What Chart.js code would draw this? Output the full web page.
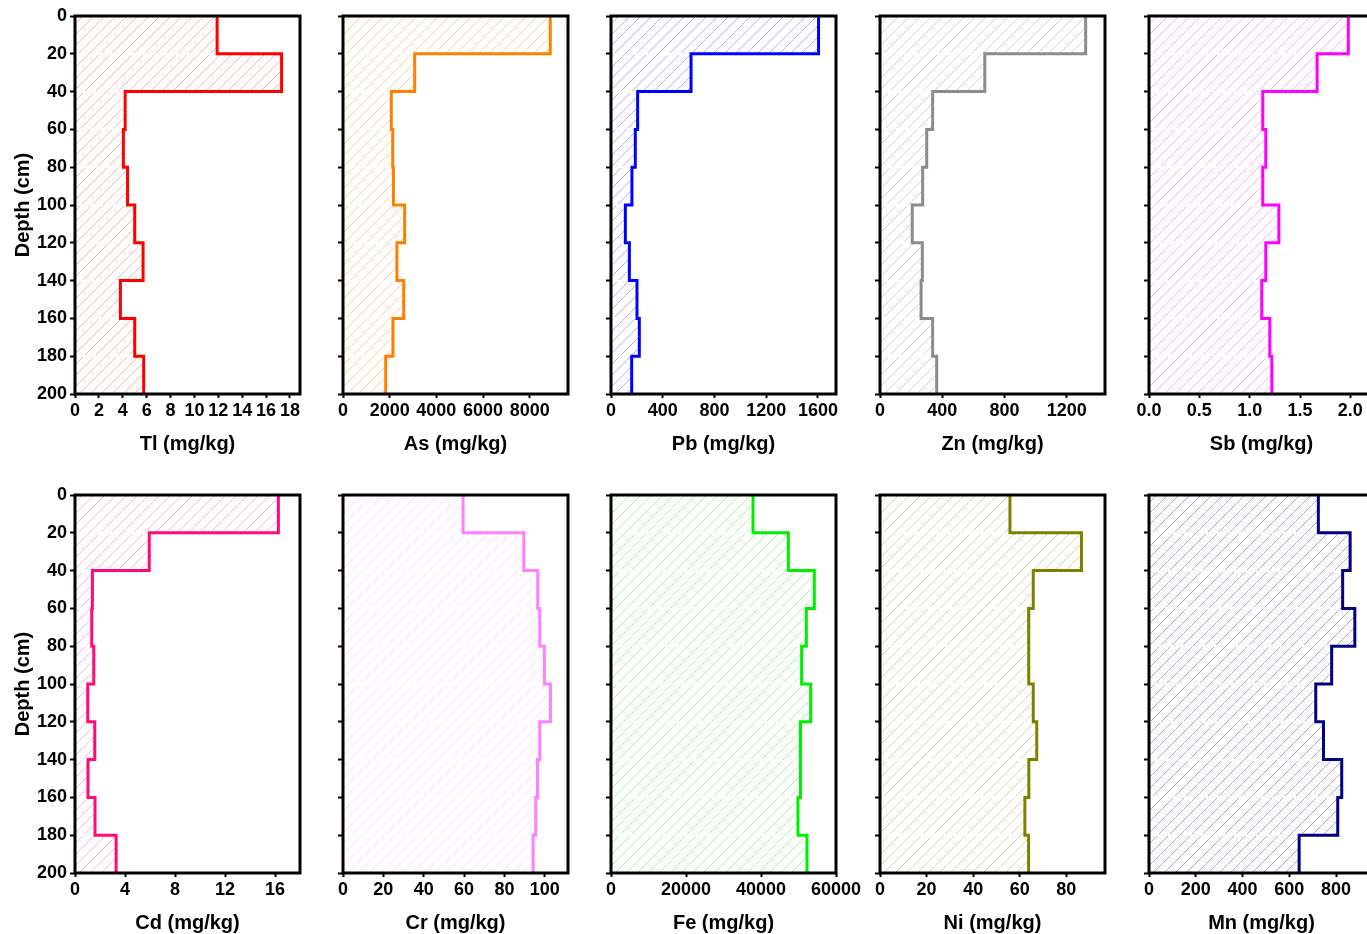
<!DOCTYPE html>
<html>
<head>
<meta charset="utf-8">
<script src="https://cdn.jsdelivr.net/npm/chart.js@4.4.1/dist/chart.umd.min.js"></script>
<style>
  html, body { margin: 0; padding: 0; background: #fff; }
  #board { position: relative; width: 1367px; height: 934px; overflow: hidden; background: #fff; }
  #board canvas { position: absolute; }
</style>
</head>
<body>
<div id="board"></div>
<script>
// depth layers (cm), each value is one 20 cm layer
const depthBounds = [0, 20, 40, 60, 80, 100, 120, 140, 160, 180, 200];
const depthTicks = [0, 20, 40, 60, 80, 100, 120, 140, 160, 180, 200];

const tlValues = [11.9, 17.3, 4.2, 4.05, 4.4, 5.0, 5.7, 3.8, 5.0, 5.75];
const asValues = [8880, 3070, 2070, 2130, 2160, 2640, 2310, 2600, 2140, 1830];
const pbValues = [1605, 619, 206, 188, 162, 111, 142, 201, 219, 160];
const znValues = [1321, 673, 338, 300, 274, 207, 272, 264, 338, 364];
const sbValues = [1.98, 1.67, 1.13, 1.16, 1.13, 1.29, 1.16, 1.12, 1.2, 1.22];
const cdValues = [16.27, 5.94, 1.39, 1.34, 1.5, 1.02, 1.58, 1.04, 1.6, 3.29];
const crValues = [59.5, 89.6, 96.5, 97.5, 99.8, 102.8, 97.5, 96.4, 95.5, 94.2];
const feValues = [37870, 47290, 54220, 52090, 50840, 53240, 50480, 50570, 49860, 52270];
const niValues = [55.8, 86.5, 65.8, 63.8, 63.9, 65.8, 67.3, 63.9, 62.2, 63.8];
const mnValues = [724, 860, 828, 880, 781, 713, 746, 824, 807, 642];

const tlTicks = [0, 2, 4, 6, 8, 10, 12, 14, 16, 18];
const asTicks = [0, 2000, 4000, 6000, 8000];
const pbTicks = [0, 400, 800, 1200, 1600];
const znTicks = [0, 400, 800, 1200];
const sbTicks = [0, 0.5, 1.0, 1.5, 2.0];
const cdTicks = [0, 4, 8, 12, 16];
const crTicks = [0, 20, 40, 60, 80, 100];
const feTicks = [0, 20000, 40000, 60000];
const niTicks = [0, 20, 40, 60, 80];
const mnTicks = [0, 200, 400, 600, 800];

const panels = [
    { title: 'Tl (mg/kg)', values: tlValues, ticks: tlTicks, max: 18.84, color: '#ff0000', hatch: '#ffb0b0' },
    { title: 'As (mg/kg)', values: asValues, ticks: asTicks, max: 9640, color: '#ff8000', hatch: '#ffcc99' },
    { title: 'Pb (mg/kg)', values: pbValues, ticks: pbTicks, max: 1740, color: '#0000ff', hatch: '#b0b0ff' },
    { title: 'Zn (mg/kg)', values: znValues, ticks: znTicks, max: 1445, color: '#8c8c8c', hatch: '#cfcfcf' },
    { title: 'Sb (mg/kg)', values: sbValues, ticks: sbTicks, max: 2.235, color: '#ff00ff', hatch: '#ffa8ff', decimals: 1 },
    { title: 'Cd (mg/kg)', values: cdValues, ticks: cdTicks, max: 18, color: '#ff0a78', hatch: '#ffb3d2' },
    { title: 'Cr (mg/kg)', values: crValues, ticks: crTicks, max: 111.5, color: '#ff80ff', hatch: '#ffd4ff' },
    { title: 'Fe (mg/kg)', values: feValues, ticks: feTicks, max: 60000, color: '#00ee00', hatch: '#a8f0a8' },
    { title: 'Ni (mg/kg)', values: niValues, ticks: niTicks, max: 96.6, color: '#808000', hatch: '#d4d4a4' },
    { title: 'Mn (mg/kg)', values: mnValues, ticks: mnTicks, max: 962, color: '#000080', hatch: '#a8a8dc' }
];

const FONT = '"Liberation Sans", Arial, Helvetica, sans-serif';
Chart.defaults.font.family = FONT;
Chart.defaults.color = '#000';

const colLefts = [75, 343, 611, 880, 1149];
const rowTops = [16, 495];
const AXIS_W = 64;
const PLOT_W = 225;
const PAD_R = 36;
const CANVAS_H = 460;

function stepPoints(values) {
    const pts = [];
    values.forEach((v, i) => {
        pts.push({ x: v, y: depthBounds[i] });
        pts.push({ x: v, y: depthBounds[i + 1] });
    });
    return pts;
}

function makeHatch(ctx, color) {
    const s = 11;
    const tile = document.createElement('canvas');
    tile.width = s;
    tile.height = s;
    const t = tile.getContext('2d');
    t.strokeStyle = color;
    t.lineWidth = 1;
    t.beginPath();
    t.moveTo(-1, s + 1); t.lineTo(s + 1, -1);
    t.moveTo(-2, 2); t.lineTo(2, -2);
    t.moveTo(s - 2, s + 2); t.lineTo(s + 2, s - 2);
    t.stroke();
    return ctx.createPattern(tile, 'repeat');
}

// white dashed layer boundaries over the hatch, under the profile line
const layerPlugin = {
    id: 'layerLines',
    afterDatasetDraw(chart, args) {
        if (args.index !== 1) return;
        const { ctx, chartArea } = chart;
        const y = chart.scales.y;
        ctx.save();
        ctx.strokeStyle = '#fff';
        ctx.lineWidth = 2;
        ctx.setLineDash([12, 4]);
        depthBounds.slice(1, -1).forEach(d => {
            const py = Math.round(y.getPixelForValue(d));
            ctx.beginPath();
            ctx.moveTo(chartArea.left, py);
            ctx.lineTo(chartArea.right, py);
            ctx.stroke();
        });
        ctx.restore();
    }
};

const framePlugin = {
    id: 'frame',
    afterDraw(chart) {
        const { ctx, chartArea } = chart;
        ctx.save();
        ctx.strokeStyle = '#000';
        ctx.lineWidth = 3;
        ctx.strokeRect(chartArea.left, chartArea.top, chartArea.right - chartArea.left, chartArea.bottom - chartArea.top);
        ctx.restore();
    }
};

const board = document.getElementById('board');

panels.forEach((p, i) => {
    const col = i % 5;
    const row = Math.floor(i / 5);
    const canvas = document.createElement('canvas');
    canvas.width = AXIS_W + PLOT_W + PAD_R;
    canvas.height = CANVAS_H;
    canvas.style.left = (colLefts[col] - AXIS_W) + 'px';
    canvas.style.top = (rowTops[row] - 16) + 'px';
    board.appendChild(canvas);

    const ctx = canvas.getContext('2d');
    const pts = stepPoints(p.values);
    const first = col === 0;

    new Chart(ctx, {
        type: 'line',
        data: {
            datasets: [
                {
                    data: pts,
                    fill: false,
                    borderColor: p.color,
                    borderWidth: 3,
                    borderJoinStyle: 'miter',
                    pointRadius: 0,
                    tension: 0
                },
                {
                    data: pts,
                    fill: 'origin',
                    backgroundColor: makeHatch(ctx, p.hatch),
                    borderColor: 'transparent',
                    borderWidth: 0,
                    pointRadius: 0,
                    tension: 0
                }
            ]
        },
        options: {
            indexAxis: 'y',
            responsive: false,
            animation: false,
            devicePixelRatio: 1,
            layout: { padding: { left: 0, right: PAD_R, top: 16, bottom: 4 } },
            plugins: {
                legend: { display: false },
                tooltip: { enabled: false }
            },
            scales: {
                x: {
                    type: 'linear',
                    position: 'bottom',
                    min: 0,
                    max: p.max,
                    afterBuildTicks: s => { s.ticks = p.ticks.map(v => ({ value: v })); },
                    afterFit: s => { s.height = 62; },
                    border: { display: false },
                    grid: { drawOnChartArea: false, drawTicks: true, tickLength: 4, tickWidth: 2, tickColor: '#000' },
                    ticks: {
                        autoSkip: false,
                        maxRotation: 0,
                        padding: 2,
                        font: { size: 18, weight: 'bold' },
                        callback: v => p.decimals ? v.toFixed(p.decimals) : String(v)
                    },
                    title: {
                        display: true,
                        text: p.title,
                        padding: 0,
                        font: { size: 20, weight: 'bold' }
                    }
                },
                y: {
                    type: 'linear',
                    position: 'left',
                    reverse: true,
                    min: 0,
                    max: 200,
                    afterBuildTicks: s => { s.ticks = depthTicks.map(v => ({ value: v })); },
                    afterFit: s => { s.width = AXIS_W; },
                    border: { display: false },
                    grid: { drawOnChartArea: false, drawTicks: true, tickLength: 5, tickWidth: 2, tickColor: '#000' },
                    ticks: {
                        display: first,
                        autoSkip: false,
                        padding: 3,
                        font: { size: 18, weight: 'bold' }
                    },
                    title: {
                        display: first,
                        text: 'Depth (cm)',
                        padding: 0,
                        font: { size: 20, weight: 'bold' }
                    }
                }
            }
        },
        plugins: [layerPlugin, framePlugin]
    });
});
</script>
</body>
</html>
